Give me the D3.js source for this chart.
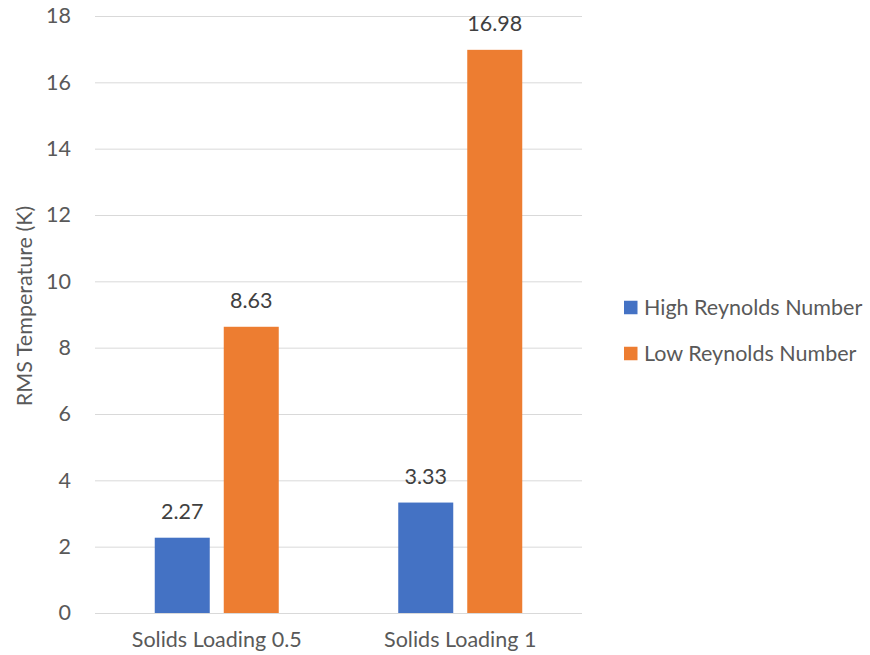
<!DOCTYPE html>
<html>
<head>
<meta charset="utf-8">
<script src="https://cdn.jsdelivr.net/npm/d3@7"></script>
<style>
  html, body { margin: 0; padding: 0; background: #ffffff; }
  svg text { font-family: Lato, sans-serif; fill: #595959; }
  svg text.value { fill: #404040; }
</style>
</head>
<body>
<svg id="chart" width="870" height="655"></svg>
<script>
// Chart data
const categories = ["Solids Loading 0.5", "Solids Loading 1"];
const seriesNames = ["High Reynolds Number", "Low Reynolds Number"];
const highRe = [2.27, 3.33];
const lowRe = [8.63, 16.98];
const yTicks = [0, 2, 4, 6, 8, 10, 12, 14, 16, 18];
const colors = ["#4472c4", "#ed7d31"];

const seriesValues = [highRe, lowRe];
const FS = 21.5;

const svg = d3.select("#chart");
const margin = { left: 95, right: 288, top: 16, bottom: 42 };
const W = 870, H = 655;
const plotW = W - margin.left - margin.right;
const plotH = H - margin.top - margin.bottom;

const g = svg.append("g").attr("transform", `translate(${margin.left},${margin.top})`);

const x0 = d3.scaleBand().domain(categories).range([0, plotW]).paddingInner(0).paddingOuter(0);
const y = d3.scaleLinear().domain([0, 18]).range([plotH, 0]);

// Gridlines
g.selectAll("line.grid").data(yTicks).enter().append("line")
  .attr("x1", 0).attr("x2", plotW)
  .attr("y1", d => y(d) + 0.5).attr("y2", d => y(d) + 0.5)
  .attr("stroke", "#d9d9d9").attr("stroke-width", 1);

// Y axis tick labels
const yAxis = d3.axisLeft(y).tickValues(yTicks).tickSize(0).tickPadding(24);
const ya = g.append("g").call(yAxis);
ya.select(".domain").remove();
ya.selectAll("text").attr("font-size", FS).attr("fill", "#595959")
  .style("font-family", "Lato, sans-serif");

// X axis labels
const xAxis = d3.axisBottom(x0).tickSize(0);
const xa = g.append("g").attr("transform", `translate(0,${plotH})`).call(xAxis);
xa.select(".domain").remove();
xa.selectAll("text").attr("font-size", FS).attr("fill", "#595959")
  .attr("y", 34).attr("dy", null)
  .style("font-family", "Lato, sans-serif");

// Bars: two per category, centred in each band
const barW = 55, gap = 14;
const groupW = barW * 2 + gap;
const x1 = d3.scaleOrdinal().domain([0, 1]).range([0, barW + gap]);

categories.forEach((cat, ci) => {
  const start = x0(cat) + (x0.bandwidth() - groupW) / 2;
  seriesValues.forEach((vals, si) => {
    const v = vals[ci];
    const bx = start + x1(si);
    g.append("rect")
      .attr("x", bx).attr("width", barW)
      .attr("y", y(v)).attr("height", y(0) - y(v))
      .attr("fill", colors[si]);
    g.append("text")
      .attr("class", "value")
      .attr("x", bx + barW / 2).attr("y", y(v) - 18.5)
      .attr("text-anchor", "middle").attr("font-size", FS)
      .text(v.toFixed(2));
  });
});

// Y axis title
svg.append("text")
  .attr("transform", `translate(32,306) rotate(-90)`)
  .attr("text-anchor", "middle").attr("font-size", FS)
  .text("RMS Temperature (K)");

// Legend
const legend = svg.append("g");
seriesNames.forEach((name, i) => {
  const ly = 307.5 + i * 46;
  legend.append("rect").attr("x", 624).attr("y", ly - 6.75).attr("width", 13.5).attr("height", 13.5)
    .attr("fill", colors[i]);
  legend.append("text").attr("x", 644).attr("y", ly).attr("dy", "0.36em")
    .attr("font-size", FS).text(name);
});
</script>
</body>
</html>
